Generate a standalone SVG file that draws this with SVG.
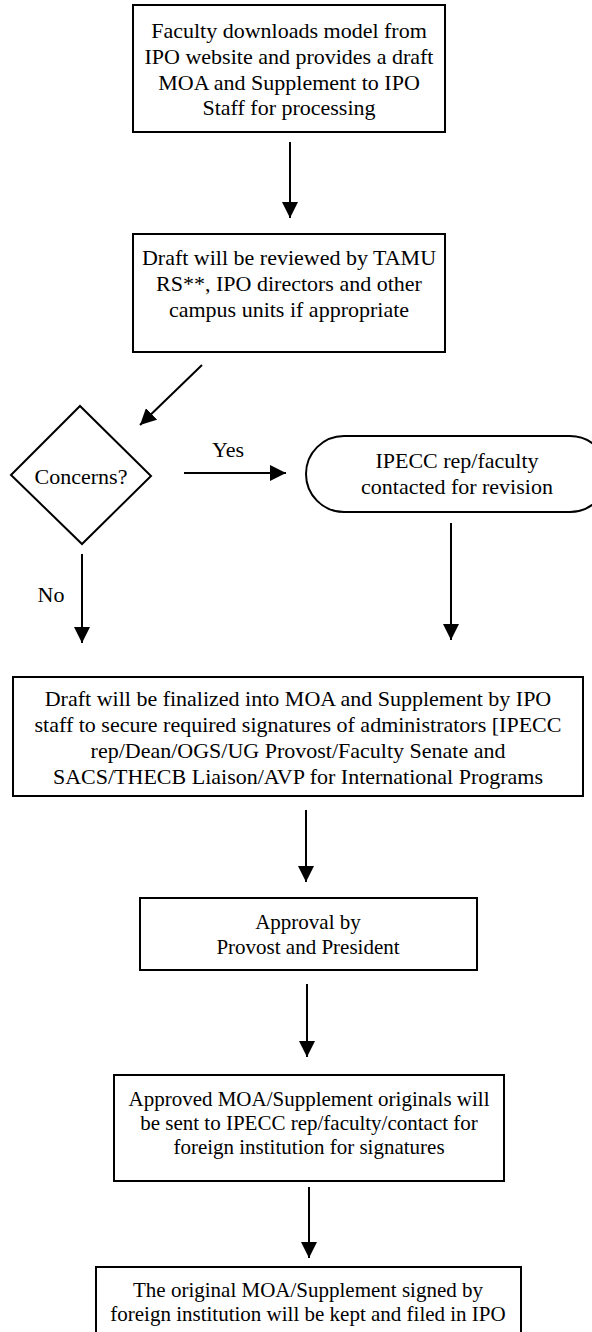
<svg xmlns="http://www.w3.org/2000/svg" width="592" height="1332" viewBox="0 0 592 1332">
<style>
  .box{fill:#fff;stroke:#000;stroke-width:2}
  .t{font-family:"Liberation Serif","Times New Roman",serif;font-size:22px;fill:#000;text-anchor:middle}
  .s{font-size:21px}
  .c{stroke:#000;stroke-width:2;fill:none;marker-end:url(#ah)}
</style>
<defs>
  <marker id="ah" markerUnits="userSpaceOnUse" markerWidth="16" markerHeight="16" refX="16" refY="8" orient="auto">
    <path d="M0,0 L16,8 L0,16 z" fill="#000"/>
  </marker>
</defs>
<rect width="592" height="1332" fill="#fff"/>
<g id="n1">
  <rect class="box" x="133" y="5" width="312" height="127"/>
  <text class="t" x="289" y="38">Faculty downloads model from</text>
  <text class="t" x="289" y="64">IPO website and provides a draft</text>
  <text class="t" x="289" y="90">MOA and Supplement to IPO</text>
  <text class="t" x="289" y="115">Staff for processing</text>
</g>
<g id="n2">
  <rect class="box" x="133" y="234" width="312" height="118"/>
  <text class="t" x="289" y="265">Draft will be reviewed by TAMU</text>
  <text class="t" x="289" y="291">RS**, IPO directors and other</text>
  <text class="t" x="289" y="317">campus units if appropriate</text>
</g>
<g id="n3">
  <polygon class="box" points="11,475 80,406 151,476 82,544"/>
  <text class="t" x="81" y="484">Concerns?</text>
</g>
<g id="n4">
  <rect class="box" x="306" y="436" width="302" height="76" rx="38" ry="38"/>
  <text class="t" x="457" y="468">IPECC rep/faculty</text>
  <text class="t" x="457" y="494">contacted for revision</text>
</g>
<g id="n5">
  <rect class="box" x="13" y="677" width="570" height="119"/>
  <text class="t" x="298" y="706">Draft will be finalized into MOA and Supplement by IPO</text>
  <text class="t" x="298" y="732">staff to secure required signatures of administrators [IPECC</text>
  <text class="t" x="298" y="758">rep/Dean/OGS/UG Provost/Faculty Senate and</text>
  <text class="t" x="298" y="784">SACS/THECB Liaison/AVP for International Programs</text>
</g>
<g id="n6">
  <rect class="box" x="140" y="898" width="337" height="72"/>
  <text class="t s" x="308" y="929">Approval by</text>
  <text class="t s" x="308" y="954">Provost and President</text>
</g>
<g id="n7">
  <rect class="box" x="114" y="1075" width="390" height="106"/>
  <text class="t s" x="309" y="1106">Approved MOA/Supplement originals will</text>
  <text class="t s" x="309" y="1130">be sent to IPECC rep/faculty/contact for</text>
  <text class="t s" x="309" y="1154">foreign institution for signatures</text>
</g>
<g id="n8">
  <rect class="box" x="96" y="1267" width="425" height="80"/>
  <text class="t s" x="308" y="1297">The original MOA/Supplement signed by</text>
  <text class="t s" x="308" y="1321">foreign institution will be kept and filed in IPO</text>
</g>
<g id="connectors">
  <line class="c" x1="290" y1="142" x2="290" y2="218"/>
  <line class="c" x1="202" y1="365" x2="140" y2="425"/>
  <line class="c" x1="184" y1="473" x2="286" y2="473"/>
  <line class="c" x1="82" y1="554" x2="82" y2="643"/>
  <line class="c" x1="451" y1="523" x2="451" y2="640"/>
  <line class="c" x1="306" y1="810" x2="306" y2="882"/>
  <line class="c" x1="307" y1="984" x2="307" y2="1057"/>
  <line class="c" x1="309" y1="1187" x2="309" y2="1258"/>
  <text class="t" x="228" y="457">Yes</text>
  <text class="t" x="51" y="602">No</text>
</g>
</svg>
